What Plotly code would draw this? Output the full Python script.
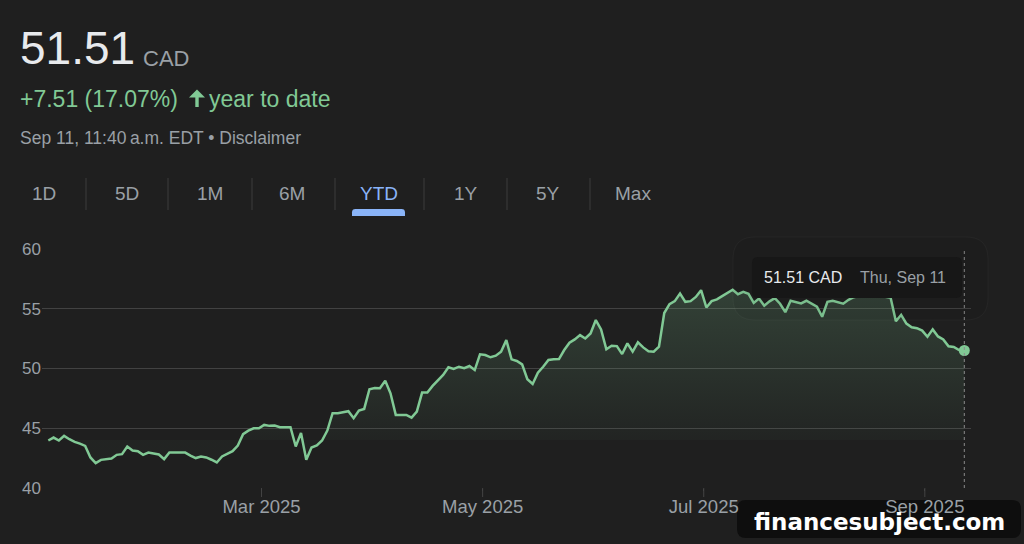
import plotly.graph_objects as go
import pandas as pd

# ---------------- data ----------------
holidays = ["2025-01-01", "2025-02-17", "2025-04-18", "2025-05-19",
            "2025-07-01", "2025-08-04", "2025-09-01"]
dates = [d.strftime("%Y-%m-%d") for d in
         pd.bdate_range("2025-01-02", "2025-09-11", freq="C", holidays=holidays)]

prices = [
    43.96, 44.21, 43.96, 44.35, 44.07, 43.85, 43.70, 43.51, 42.54, 42.07,
    42.34, 42.40, 42.45, 42.76, 42.82, 43.46, 43.12, 43.07, 42.76, 42.95,
    42.88, 42.79, 42.40, 42.95, 42.95, 42.93, 42.95, 42.70, 42.49, 42.62,
    42.54, 42.35, 42.12, 42.62, 42.85, 43.07, 43.54, 44.49, 44.79, 44.99,
    44.99, 45.27, 45.19, 45.21, 45.08, 45.05, 45.08, 43.46, 44.60, 42.34,
    43.37, 43.55, 43.96, 44.80, 46.25, 46.25, 46.36, 46.42, 45.83, 46.47,
    46.61, 48.26, 48.37, 48.34, 48.98, 47.92, 46.11, 46.08, 46.11, 45.88,
    46.39, 47.98, 47.98, 48.54, 49.04, 49.46, 50.10, 49.96, 50.15, 50.02,
    50.21, 49.87, 51.19, 51.13, 50.94, 51.07, 51.41, 52.38, 50.77, 50.63,
    50.35, 49.10, 48.70, 49.65, 50.15, 50.71, 50.77, 50.79, 51.55, 52.16,
    52.44, 52.80, 52.52, 52.94, 54.06, 53.28, 51.61, 51.91, 51.88, 51.21,
    52.11, 51.41, 52.19, 51.77, 51.45, 51.41, 51.83, 54.65, 55.40, 55.65,
    56.29, 55.59, 55.65, 56.00, 56.57, 55.12, 55.65, 55.80, 56.07, 56.35,
    56.60, 56.23, 56.42, 56.26, 55.50, 55.87, 55.27, 55.63, 55.90, 55.43,
    54.72, 55.68, 55.55, 55.46, 55.68, 55.40, 55.18, 54.34, 55.59, 55.68,
    55.55, 55.43, 55.76, 55.98, 56.10, 56.25, 56.05, 56.20, 56.10, 56.00,
    55.93, 53.96, 54.50, 53.77, 53.46, 53.38, 53.18, 52.66, 53.28, 52.69,
    52.44, 51.86, 51.80, 51.55, 51.51,
]
prev_close = 44.00

tick_months = ["2025-03", "2025-05", "2025-07", "2025-09"]
tick_labels = ["Mar 2025", "May 2025", "Jul 2025", "Sep 2025"]
y_ticks = [40, 45, 50, 55, 60]
tabs = ["1D", "5D", "1M", "6M", "YTD", "1Y", "5Y", "Max"]

price_text = "51.51"
currency = "CAD"
change_text = "+7.51 (17.07%)"
period_text = "year to date"
stamp_text = "Sep 11, 11:40\u2009a.m. EDT \u2022 Disclaimer"
tip_value = "51.51 CAD"
tip_date = "Thu, Sep 11"
watermark = "financesubject.com"

# ---------------- styling ----------------
BG = "#1f1f1f"
GREEN = "#81c995"
GREY = "#9aa0a6"
GRID = "#424242"
TICK = "#444444"
FONT = "Liberation Sans, Arial, sans-serif"

W, H = 1024, 544
PL, PR, PT, PB = 42, 971, 249, 488

idx = list(range(len(dates)))
tickvals = [next(i for i, d in enumerate(dates) if d.startswith(m)) - 0.5 for m in tick_months]

def px(x):
    return (x - PL) / (PR - PL)

def py(y):
    return (PB - y) / (PB - PT)

def poly(points):
    return "M " + " L ".join(f"{px(a):.5f},{py(b):.5f}" for a, b in points) + " Z"

def rrect(x0, y0, x1, y1, r, top_only=False):
    rb = 0 if top_only else r
    pts = [
        ("M", [(x0 + r, y0)]), ("L", [(x1 - r, y0)]), ("Q", [(x1, y0), (x1, y0 + r)]),
        ("L", [(x1, y1 - rb)]), ("Q", [(x1, y1), (x1 - rb, y1)]),
        ("L", [(x0 + rb, y1)]), ("Q", [(x0, y1), (x0, y1 - rb)]),
        ("L", [(x0, y0 + r)]), ("Q", [(x0, y0), (x0 + r, y0)]),
    ]
    s = ""
    for cmd, ps in pts:
        s += cmd + " " + " ".join(f"{px(a):.5f},{py(b):.5f}" for a, b in ps) + " "
    return s + "Z"

fig = go.Figure()

# baseline (previous close) for the fill
fig.add_trace(go.Scatter(
    x=[idx[0], idx[-1]], y=[prev_close, prev_close], mode="lines",
    line=dict(width=0, color="rgba(0,0,0,0)"), hoverinfo="skip", showlegend=False))

fig.add_trace(go.Scatter(
    x=idx, y=prices, mode="lines", customdata=dates,
    line=dict(color=GREEN, width=2.5),
    fill="tonexty",
    fillgradient=dict(type="vertical", start=prev_close, stop=max(prices),
                      colorscale=[[0, "rgba(129,201,149,0.03)"],
                                  [1, "rgba(129,201,149,0.20)"]]),
    hovertemplate="%{y:.2f} CAD  %{customdata}<extra></extra>",
    showlegend=False))

fig.add_trace(go.Scatter(
    x=[idx[-1]], y=[prices[-1]], mode="markers",
    marker=dict(color=GREEN, size=11), hoverinfo="skip", showlegend=False))

shapes = []
# x tick marks (drawn as shapes so labels can sit close to the axis)
for tv in tickvals:
    shapes.append(dict(type="line", xref="x", yref="paper", x0=tv, x1=tv,
                       y0=0, y1=py(497), line=dict(color=TICK, width=1)))
# crosshair dotted line
shapes.append(dict(type="line", xref="x", yref="paper", x0=idx[-1], x1=idx[-1],
                   y0=0, y1=1, line=dict(color="#8a8a8a", width=1, dash="dot"),
                   layer="above"))
# tooltip shadow + box
shapes.append(dict(type="path", xref="paper", yref="paper",
                   path=rrect(733, 237, 988, 320, 22),
                   fillcolor="rgba(0,0,0,0.05)", line=dict(color="rgba(255,255,255,0.035)", width=1),
                   layer="above"))
shapes.append(dict(type="path", xref="paper", yref="paper",
                   path=rrect(752, 257, 962, 298, 6),
                   fillcolor="#171717", line=dict(width=0), layer="above"))
# tab separators
for sx in [86, 168, 252, 335, 424, 507, 590]:
    shapes.append(dict(type="line", xref="paper", yref="paper",
                       x0=px(sx), x1=px(sx), y0=py(178), y1=py(210),
                       line=dict(color="#3c3c3c", width=1)))
# YTD underline
shapes.append(dict(type="path", xref="paper", yref="paper",
                   path=rrect(352, 209, 405, 216, 3.5, top_only=True),
                   fillcolor="#8ab4f8", line=dict(width=0)))
# up arrow next to the change
shapes.append(dict(type="path", xref="paper", yref="paper",
                   path=poly([(197, 89.5), (205, 97.5), (198.7, 97.5), (198.7, 107),
                              (195.3, 107), (195.3, 97.5), (189, 97.5)]),
                   fillcolor=GREEN, line=dict(width=0)))
# watermark box
shapes.append(dict(type="path", xref="paper", yref="paper",
                   path=rrect(737, 500, 1021, 538, 9),
                   fillcolor="#0e0e0e", line=dict(width=0), layer="below"))

ann = []
def text(x, y, s, size, color, anchor="left", family=FONT):
    ann.append(dict(xref="paper", yref="paper", x=px(x), y=py(y), text=s,
                    showarrow=False, xanchor=anchor, yanchor="middle",
                    font=dict(size=size, color=color, family=family)))

text(18, 48, price_text, 46, "#e8eaed")
text(141, 58, currency, 22, GREY)
text(18, 99, change_text, 23, GREEN)
text(207, 99, period_text, 23, GREEN)
text(18, 138, stamp_text, 17.5, GREY)

tab_x = [44, 127, 210, 292, 379, 466, 548, 633]
for t, tx in zip(tabs, tab_x):
    text(tx, 193, t, 19, "#8ab4f8" if t == "YTD" else GREY, anchor="center")

text(762, 277, tip_value, 16, "#e8eaed")
text(858, 277, tip_date, 16, GREY)
text(879, 522, f"<b>{watermark}</b>", 23, "#ffffff", anchor="center",
     family="DejaVu Sans, sans-serif")

fig.update_layout(
    width=W, height=H, paper_bgcolor=BG, plot_bgcolor=BG,
    margin=dict(l=PL, r=W - PR, t=PT, b=H - PB, pad=0),
    font=dict(family=FONT, color=GREY),
    xaxis=dict(type="linear", range=[-1.2, 175.27], showgrid=False, zeroline=False,
               showline=False, tickmode="array", tickvals=tickvals, ticktext=tick_labels,
               ticks="outside", ticklen=2, tickcolor=TICK, tickwidth=1,
               tickfont=dict(size=18.5, color=GREY)),
    yaxis=dict(range=[39.98, 60.02], tickvals=y_ticks, showgrid=True, gridcolor=GRID,
               gridwidth=1, zeroline=False, showline=False, ticks="",
               tickfont=dict(size=17, color=GREY)),
    shapes=shapes, annotations=ann, hovermode="x",
)

fig.write_html("out.html", config={"displayModeBar": False})
